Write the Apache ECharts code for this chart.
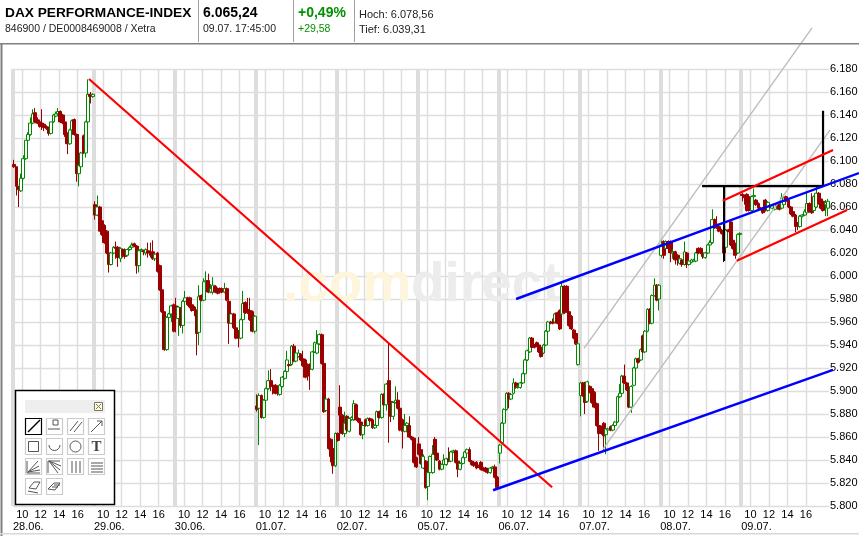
<!DOCTYPE html>
<html><head><meta charset="utf-8">
<style>html,body{margin:0;padding:0;background:#fff}#c{width:859px;height:536px}</style>
<script src="https://cdn.jsdelivr.net/npm/echarts@6/dist/echarts.min.js"></script>
</head><body><div id="c"></div>
<script>
// candle = [open, close, low, high], 15-minute bars
const d2806 = [
[6097,6095,6094,6101],[6095,6078,6070,6095],[6078,6075,6060,6078],[6074,6085,6073,6089],[6085,6102,6084,6105],
[6102,6118,6101,6118],[6118,6123,6117,6125],[6123,6133,6122,6138],[6133,6141,6132,6145],[6142,6134,6133,6146],
[6136,6133,6132,6138],[6134,6130,6129,6136],[6133,6130,6127,6145],[6132,6129,6126,6133],[6130,6128,6127,6131],
[6128,6124,6122,6130],[6124,6134,6123,6134],[6134,6140,6133,6141],[6139,6141,6138,6143],[6141,6143,6140,6146],
[6143,6134,6133,6144],[6140,6133,6132,6141],[6134,6123,6121,6135],[6124,6115,6106,6125],[6115,6127,6114,6128],
[6127,6135,6126,6136],[6136,6123,6122,6137],[6123,6089,6082,6124],[6089,6096,6078,6097],[6095,6107,6094,6108],
[6122,6107,6106,6123],[6107,6134,6103,6135],[6134,6158,6133,6171],[6158,6156,6150,6160],[6156,6158,6155,6159]];
const d2906 = [
[6062,6053,6049,6065],[6053,6060,6052,6070],[6060,6039,6039,6061],[6048,6036,6035,6049],[6044,6029,6028,6045],
[6039,6020,6019,6040],[6020,6010,6003,6025],[6010,6020,6009,6021],[6020,6025,6019,6026],[6025,6024,6015,6030],
[6025,6016,6008,6026],[6015,6024,6012,6025],[6023,6018,6016,6024],[6023,6017,6015,6024],[6018,6023,6017,6024],
[6023,6025,6022,6026],[6025,6027,6024,6029],[6028,6026,6025,6029],[6026,6009,6002,6027],[6009,6022,6003,6023],
[6022,6023,6021,6024],[6022,6021,6018,6023],[6020,6023,6018,6024],[6022,6020,6016,6029],[6021,6018,6016,6029],
[6021,6015,6014,6031],[6015,6019,6013,6020],[6020,6004,6003,6021],[6009,5988,5987,6010],[5988,5969,5968,5989],
[5969,5936,5935,5969],[5936,5964,5935,5965],[5964,5967,5951,5968],[5967,5974,5960,5975],[5975,5952,5951,5976]];
const d3006 = [
[5974,5964,5951,5981],[5963,5973,5948,5974],[5972,5957,5955,5973],[5957,5978,5950,5979],[5978,5981,5977,5987],
[5981,5975,5974,5982],[5981,5973,5972,5982],[5975,5970,5969,5976],[5973,5970,5965,5974],[5970,5950,5931,5971],
[5951,5982,5940,5992],[5983,5979,5978,5984],[5979,5995,5978,5998],[5995,5996,5994,6004],[5996,5986,5985,6002],
[5986,5989,5985,5993],[5986,5992,5984,5999],[5991,5986,5985,5992],[5989,5985,5984,5990],[5989,5986,5985,5990],
[5989,5986,5985,5990],[5986,5989,5985,5994],[5989,5979,5978,5990],[5978,5959,5941,5979],[5959,5967,5958,5968],
[5967,5955,5954,5968],[5955,5946,5945,5956],[5952,5946,5938,5953],[5946,5962,5945,5963],[5962,5976,5961,5987],
[5977,5968,5967,5978],[5971,5968,5967,5981],[5970,5962,5961,5981],[5969,5952,5951,5970],[5952,5965,5950,5966]];
const d0107 = [
[5887,5884,5882,5897],[5885,5896,5853,5898],[5896,5877,5876,5897],[5877,5892,5876,5893],[5892,5902,5891,5903],
[5902,5909,5901,5918],[5909,5904,5900,5919],[5905,5904,5897,5906],[5905,5898,5897,5906],[5904,5898,5896,5905],
[5897,5905,5896,5906],[5904,5912,5903,5913],[5911,5917,5910,5918],[5917,5927,5916,5935],[5923,5922,5921,5924],
[5923,5939,5922,5940],[5939,5926,5925,5941],[5926,5933,5925,5934],[5930,5933,5929,5936],[5932,5927,5926,5933],
[5928,5922,5921,5935],[5927,5912,5911,5928],[5923,5913,5909,5924],[5923,5919,5901,5924],[5919,5934,5918,5935],
[5934,5942,5933,5943],[5933,5941,5932,5953],[5941,5949,5940,5950],[5949,5924,5923,5950],[5924,5882,5881,5925],
[5883,5893,5882,5894],[5893,5850,5849,5894],[5858,5843,5838,5859],[5850,5835,5828,5851],[5835,5863,5834,5864]];
const d0207 = [
[5863,5857,5856,5864],[5886,5879,5863,5905],[5879,5863,5862,5880],[5863,5872,5860,5882],[5878,5866,5864,5879],
[5865,5876,5864,5877],[5875,5877,5874,5878],[5875,5889,5874,5892],[5888,5875,5874,5889],[5876,5873,5872,5877],
[5873,5862,5861,5874],[5862,5870,5858,5871],[5875,5870,5869,5876],[5870,5876,5869,5877],[5876,5874,5873,5877],
[5875,5868,5867,5876],[5868,5870,5867,5871],[5870,5882,5869,5883],[5882,5877,5876,5883],[5877,5897,5876,5898],
[5897,5888,5887,5898],[5888,5906,5883,5907],[5909,5890,5855,5942],[5891,5878,5873,5892],[5878,5890,5875,5891],
[5890,5892,5889,5904],[5892,5885,5884,5899],[5885,5866,5865,5886],[5875,5865,5850,5876],[5865,5870,5864,5880],
[5870,5872,5864,5873],[5870,5860,5859,5878],[5860,5858,5857,5861],[5859,5838,5837,5860],[5842,5834,5833,5843]];
const d0507 = [
[5854,5845,5844,5860],[5849,5837,5836,5850],[5833,5843,5832,5845],[5839,5816,5815,5840],[5817,5829,5805,5830],
[5829,5843,5828,5844],[5829,5845,5828,5853],[5858,5845,5844,5860],[5846,5840,5839,5847],[5839,5832,5831,5840],
[5832,5836,5831,5837],[5836,5840,5835,5845],[5836,5841,5835,5842],[5841,5839,5838,5851],[5839,5847,5838,5848],
[5847,5848,5846,5849],[5848,5838,5837,5849],[5839,5832,5825,5840],[5832,5837,5831,5838],[5837,5842,5836,5843],
[5842,5847,5841,5848],[5846,5849,5845,5850],[5849,5839,5838,5851],[5839,5836,5835,5840],[5838,5835,5834,5839],
[5838,5833,5832,5839],[5835,5834,5833,5836],[5838,5832,5831,5839],[5833,5831,5830,5834],[5833,5830,5829,5834],
[5832,5829,5828,5833],[5829,5833,5828,5834],[5833,5834,5832,5835],[5834,5825,5824,5836],[5825,5816,5815,5826]];
const d0607 = [
[5846,5853,5837,5854],[5855,5872,5854,5873],[5872,5884,5871,5885],[5884,5898,5883,5899],[5898,5893,5885,5899],
[5893,5897,5892,5898],[5898,5907,5897,5911],[5907,5903,5902,5908],[5903,5904,5902,5905],[5903,5907,5902,5908],
[5907,5915,5906,5916],[5915,5927,5914,5928],[5927,5935,5926,5936],[5934,5946,5933,5947],[5946,5938,5937,5947],
[5940,5938,5937,5941],[5942,5939,5938,5943],[5940,5934,5933,5941],[5938,5930,5929,5939],[5933,5940,5932,5941],
[5940,5952,5939,5953],[5952,5960,5951,5961],[5960,5959,5958,5961],[5960,5959,5958,5963],[5960,5967,5959,5968],
[5968,5959,5958,5969],[5970,5954,5953,5971],[5967,5991,5966,5994],[5991,5968,5967,5992],[5991,5969,5968,5992],
[5969,5957,5956,5970],[5965,5954,5953,5966],[5953,5946,5945,5954],[5950,5941,5940,5951],[5923,5941,5922,5942]];
const d0707 = [
[5896,5907,5878,5908],[5907,5896,5895,5908],[5907,5890,5880,5908],[5891,5908,5890,5909],[5904,5899,5898,5905],
[5902,5890,5889,5903],[5899,5886,5885,5900],[5889,5870,5869,5890],[5870,5863,5848,5871],[5869,5863,5862,5870],
[5872,5861,5848,5873],[5862,5867,5845,5868],[5866,5867,5865,5868],[5869,5866,5865,5870],[5866,5870,5865,5871],
[5870,5873,5869,5874],[5873,5895,5872,5896],[5895,5898,5894,5906],[5898,5913,5897,5914],[5913,5907,5906,5923],
[5907,5901,5900,5908],[5901,5886,5885,5902],[5886,5904,5881,5905],[5905,5920,5904,5921],[5920,5928,5919,5929],
[5928,5925,5924,5929],[5927,5936,5926,5937],[5948,5934,5933,5949],[5934,5952,5933,5953],[5952,5971,5951,5972],
[5971,5959,5958,5972],[5959,5983,5958,5984],[5983,5992,5982,5998],[5992,5979,5978,5993],[5980,5992,5970,5993]];
const d0807 = [
[6018,6027,6016,6031],[6030,6018,6015,6031],[6024,6030,6023,6031],[6030,6024,6020,6031],[6030,6020,6012,6031],
[6020,6021,6015,6023],[6021,6014,6010,6022],[6018,6014,6009,6019],[6011,6015,6010,6016],[6014,6010,6008,6015],
[6010,6021,6009,6030],[6020,6010,6007,6021],[6010,6013,6009,6014],[6012,6014,6011,6015],[6013,6014,6012,6015],
[6013,6020,6012,6021],[6024,6020,6019,6025],[6024,6020,6019,6025],[6020,6017,6015,6021],[6016,6020,6015,6021],
[6020,6027,6019,6028],[6027,6029,6025,6031],[6029,6049,6028,6058],[6049,6042,6041,6050],[6045,6042,6041,6052],
[6043,6039,6038,6044],[6040,6037,6036,6041],[6037,6020,6012,6038],[6025,6040,6024,6041],[6040,6039,6038,6041],
[6047,6027,6026,6048],[6031,6024,6023,6032],[6028,6018,6015,6029],[6020,6036,6019,6037],[6036,6037,6035,6038]];
const d0907 = [
[6071,6070,6065,6072],[6070,6068,6062,6071],[6071,6057,6056,6072],[6069,6057,6056,6070],[6057,6069,6056,6070],
[6069,6070,6068,6076],[6066,6062,6061,6067],[6063,6059,6058,6064],[6059,6058,6057,6060],[6059,6055,6054,6060],
[6066,6057,6056,6067],[6057,6064,6056,6065],[6061,6060,6059,6062],[6059,6061,6058,6062],[6058,6062,6057,6063],
[6063,6061,6060,6064],[6062,6058,6057,6063],[6059,6068,6058,6072],[6062,6068,6061,6069],[6069,6065,6064,6070],
[6066,6060,6059,6067],[6060,6054,6053,6061],[6056,6052,6051,6057],[6053,6043,6038,6054],[6046,6043,6040,6047],
[6043,6052,6042,6053],[6052,6053,6051,6054],[6053,6056,6052,6058],[6055,6063,6054,6073],[6063,6056,6055,6064],
[6060,6055,6054,6072],[6057,6069,6056,6070],[6060,6072,6059,6078],[6072,6063,6062,6073],[6067,6059,6058,6068],
[6065,6057,6056,6066],[6062,6064,6052,6066],[6059,6065,6052,6067]];
const dayCandles = [d2806,d2906,d3006,d0107,d0207,d0507,d0607,d0707,d0807,d0907];
const dates = ['28.06.','29.06.','30.06.','01.07.','02.07.','05.07.','06.07.','07.07.','08.07.','09.07.'];
const hours = [10,12,14,16];
const barsPerDay = 35;
const yTicks = [5800,6180,20];

// drawn lines: [day position, price]
const redFall = [[0.939,6171.3],[6.663,5816.3]];
const blueLow = [[5.933,5813.7],[10.136,5918.4]];
const blueHigh = [[6.218,5980],[10.457,6089.5]];
const grayA = [[7.058,5937],[9.876,6215.7]];
const grayB = [[7.293,5849.4],[10.099,6127]];
const redUp = [[8.772,6065.4],[10.136,6109.5]];
const redDown = [[8.946,6013.2],[10.309,6057.3]];
const blackH = [[8.517,6078.2],[10.012,6078.2]];
const blackV1 = [[8.789,6078.2],[8.789,6013]];
const blackV2 = [[10.012,6143.7],[10.012,6078.2]];

const F = '"Liberation Sans", Arial, sans-serif';
const candles = [], cats = [];
dayCandles.forEach((d,i)=>{
  const n = Math.max(d.length, barsPerDay);
  for(let k=0;k<n;k++){candles.push(d[k]||'-');cats.push(dates[i]+k);}
});
const xMax = candles.length/barsPerDay;
const plotW = 816, drawW = 846;           // drawing grid runs past the price plot
const hourVals = [];
dates.forEach((_,i)=>hours.forEach(h=>hourVals.push(i+(h-9)/8.75)));
const dayVals = dates.map((_,i)=>i);

function ln(name,data,color,width){
  return {name,type:'line',xAxisIndex:3,yAxisIndex:1,data,showSymbol:false,symbol:'none',clip:false,silent:true,
    lineStyle:{color,width,cap:'butt'},z:5,animation:false};
}
const G=[];
function line(x1,y1,x2,y2,stroke,lw,z){G.push({type:'line',silent:true,z:z||100,shape:{x1,y1,x2,y2},style:{stroke,lineWidth:lw||1}});}
function rect(x,y,w,h,fill,stroke,lw,z){G.push({type:'rect',silent:true,z:z||100,shape:{x,y,width:w,height:h},style:{fill:fill||'none',stroke:stroke||'none',lineWidth:lw||1}});}
function text(t,x,y,font,fill,z){G.push({type:'text',silent:true,z:z||100,style:{text:t,x,y,font,fill:fill||'#000',verticalAlign:'middle'}});}

// frame + header
rect(0,43,859,1.5,'#808080');
rect(0.5,43,2,493,'#808080');
rect(0,533,859,1.5,'#d8d8d8');
[198.5,293.5,354.5].forEach(x=>line(x,0,x,42,'#a0a0a0',1));
text('DAX PERFORMANCE-INDEX',5,13,'bold 13.7px '+F);
text('846900 / DE0008469008 / Xetra',5,29,'10.5px '+F,'#222');
text('6.065,24',203,13,'bold 14px '+F);
text('09.07. 17:45:00',203,29,'10.5px '+F,'#222');
text('+0,49%',298,13,'bold 14px '+F,'#009000');
text('+29,58',298,29,'10.5px '+F,'#009000');
text('Hoch: 6.078,56',359,15,'11px '+F,'#222');
text('Tief: 6.039,31',359,29.5,'11px '+F,'#222');

// watermark
text('.com',283,286,'bold 55px '+F,'#fdf5dc',1);
text('direct',411,286,'bold 55px '+F,'#ececec',1);

// toolbox
rect(15.5,390.5,99,114,'#fff','#000',1.5);
rect(25,400,80,13,'#eeeeee');
rect(94.5,402.5,8,8,'#ffffcc','#777',1);
line(96,404,101,409,'#777');line(101,404,96,409,'#777');
const iconX=[25.5,46.5,67.5,88.5], iconY=[418.5,438.5,458.5,478.5];
iconY.forEach((y,r)=>iconX.forEach((x,c)=>{
  if(r===3&&c>1)return;
  const act=r===0&&c===0;
  rect(x,y,16,16,'#fff',act?'#000':'#ccc',1.2);
}));
const ig='#555';
line(28,432,40,420,'#000',1.4);
line(48,429,60,429,ig,1);rect(53,420,5,5,'#fff',ig,1);
line(70,431,78,421,ig,1);line(74,432,82,422,ig,1);
line(91,432,102,421,ig,1);line(97,421,102,421,ig,1);line(102,421,102,426,ig,1);
rect(28.5,441.5,10,10,'none',ig,1);
G.push({type:'arc',silent:true,z:100,shape:{cx:54.5,cy:445,r:5.5,startAngle:0,endAngle:Math.PI},style:{stroke:ig,fill:'none',lineWidth:1}});
G.push({type:'circle',silent:true,z:100,shape:{cx:75.5,cy:446.5,r:5.5},style:{stroke:ig,fill:'none',lineWidth:1}});
text('T',91.5,447,'bold 15px "Liberation Serif", serif','#444');
[[38,461],[39,466],[40,470]].forEach(p=>line(28,472,p[0],p[1],ig,1));line(27,461,27,473,ig,1);line(27,473,40,473,ig,1);
[[60,470],[58,473],[61,466]].forEach(p=>line(49,461,p[0],p[1],ig,1));line(48,461,60,461,ig,1);line(48,461,48,473,ig,1);
[72,76,80].forEach(x=>line(x,461,x,473,ig,1));
[463,466,469,472].forEach(y=>line(91,y,103,y,ig,1));
G.push({type:'polygon',silent:true,z:100,shape:{points:[[29,488],[34,482],[40,482],[36,489]]},style:{fill:'#fff',stroke:ig,lineWidth:1}});
line(28,491,38,493,ig,1);
G.push({type:'polygon',silent:true,z:100,shape:{points:[[48,489],[54,483],[60,483],[55,490]]},style:{fill:'#fff',stroke:ig,lineWidth:1}});
line(52,487,58,487,ig,1);line(54,485,60,485,ig,1);

const option={
  animation:false,
  backgroundColor:'#fff',
  grid:[
    {left:13,top:69,width:plotW,height:437,containLabel:false,outerBoundsMode:'none'},
    {left:13,top:69,width:drawW,height:437,containLabel:false,outerBoundsMode:'none'}
  ],
  xAxis:[
    {type:'category',gridIndex:0,data:cats,show:false,boundaryGap:true},
    {type:'value',gridIndex:0,min:0,max:xMax,position:'bottom',axisLine:{show:false},
      axisTick:{show:false,customValues:hourVals},
      splitLine:{show:true,lineStyle:{color:'#dddddd',width:1.4}},
      axisLabel:{show:true,customValues:hourVals,margin:3,color:'#000',fontFamily:F,fontSize:11,hideOverlap:false,
        formatter:v=>String(Math.round((v%1)*8.75+9))}},
    {type:'value',gridIndex:0,min:0,max:xMax,position:'bottom',axisLine:{show:false},
      axisTick:{show:false,customValues:dayVals},
      splitLine:{show:true,lineStyle:{color:'#dddddd',width:4}},
      axisLabel:{show:true,customValues:dayVals,margin:15,color:'#000',fontFamily:F,fontSize:11,align:'left',hideOverlap:false,
        formatter:v=>dates[Math.round(v)]}},
    {type:'value',gridIndex:1,min:0,max:xMax*drawW/plotW,show:false,splitLine:{show:false}}
  ],
  yAxis:[
    {type:'value',gridIndex:0,min:yTicks[0],max:yTicks[1],interval:yTicks[2],position:'right',
      axisLine:{show:false},axisTick:{show:false},
      splitLine:{show:true,lineStyle:{color:'#dddddd',width:1.4}},
      axisLabel:{margin:1,color:'#000',fontFamily:F,fontSize:11,
        formatter:v=>{const s=String(v);return s[0]+'.'+s.slice(1);}}},
    {type:'value',gridIndex:1,min:yTicks[0],max:yTicks[1],interval:yTicks[2],show:false,splitLine:{show:false}}
  ],
  series:[
    {type:'candlestick',name:'DAX',xAxisIndex:0,yAxisIndex:0,data:candles,barWidth:3.4,z:3,silent:true,
      itemStyle:{color:'#ffffff',color0:'#990000',borderColor:'#008800',borderColor0:'#990000',borderWidth:1}},
    ln('grauA',grayA,'#bdbdbd',1.4),
    ln('grauB',grayB,'#bdbdbd',1.4),
    ln('schwarzH',blackH,'#000',2.2),
    ln('schwarzV1',blackV1,'#000',2.2),
    ln('schwarzV2',blackV2,'#000',2.2),
    ln('rot',redFall,'#ff0000',2.2),
    ln('rotOben',redUp,'#ff0000',2.2),
    ln('rotUnten',redDown,'#ff0000',2.2),
    ln('blauUnten',blueLow,'#0000ff',2.4),
    ln('blauOben',blueHigh,'#0000ff',2.4)
  ],
  graphic:{elements:G}
};
echarts.init(document.getElementById('c'),null,{renderer:'canvas'}).setOption(option);
</script></body></html>
